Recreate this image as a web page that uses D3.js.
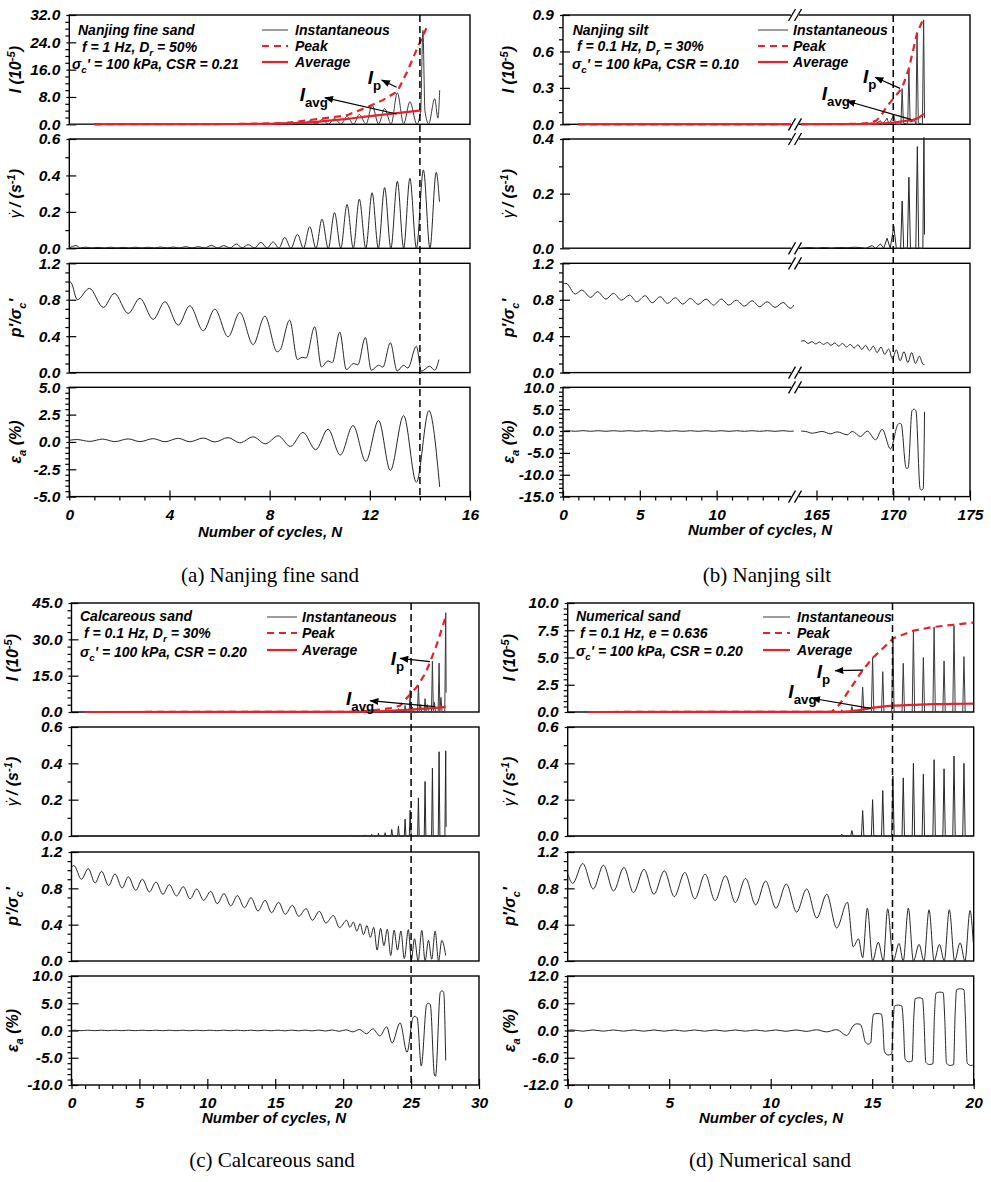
<!DOCTYPE html>
<html><head><meta charset="utf-8">
<script src="https://cdnjs.cloudflare.com/ajax/libs/d3/7.8.5/d3.min.js"></script>
<style>
body{margin:0;background:#fff;}
svg{display:block;}
</style></head><body>
<svg id="c" width="991" height="1182"></svg>
<script>
// ---------------- DATA ----------------
// x tick labels
const aXTicks = [0,4,8,12,16];
const bXTicksL = [0,5,10], bXTicksR = [165,170,175];
const cXTicks = [0,5,10,15,20,25,30];
const dXTicks = [0,5,10,15,20];
// y tick labels
const aITicks = [0,8,16,24,32], bITicks = [0,0.3,0.6,0.9], cITicks = [0,15,30,45], dITicks = [0,2.5,5,7.5,10];
const rateTicks06 = [0,0.2,0.4,0.6], rateTicks04 = [0,0.2,0.4];
const pTicks = [0,0.4,0.8,1.2];
const aEpsTicks = [-5,-2.5,0,2.5,5], bEpsTicks = [-15,-10,-5,0,5,10], cEpsTicks = [-10,-5,0,5,10], dEpsTicks = [-12,-6,0,6,12];
// critical cycle (vertical dashed line)
const critN = [14, 170, 25, 16];
// captions
const captions = ['(a) Nanjing fine sand','(b) Nanjing silt','(c) Calcareous sand','(d) Numerical sand'];

// ---- (a) Nanjing fine sand ----
const aInst = [[0,0],[6,0],[7.65,0.1],[8.1,0.05],[8.6,0.4],[8.85,0.05],[9.11,0.6],[9.35,0.05],[9.6,1.0],[9.85,0.05],[10.09,1.4],[10.35,0.05],[10.59,1.7],[10.85,0.05],[11.09,2.3],[11.35,0.05],[11.58,2.9],[11.85,0.05],[12.09,5.6],[12.35,0.05],[12.59,4.6],[12.85,0.05],[13.1,9.2],[13.35,0.05],[13.6,6.6],[13.88,0.05],[14.03,4],[14.12,27.5],[14.2,4],[14.35,0.1],[14.59,7.5],[14.72,1.8],[14.79,10.0]];
const aPeak = [[1,0],[7,0.1],[8.67,0.4],[10,1.6],[11.06,2.6],[11.86,4.9],[12.5,7.0],[13.1,9.6],[13.5,15.5],[13.86,21.7],[14.26,28.1]];
const aAvg = [[1,0],[6,0.02],[8,0.15],[9,0.35],[10,0.8],[11,1.5],[12,2.4],[13,3.2],[14.06,4.1]];
const aRate = [[0,0.002],[0.27,0.015],[0.45,0.002],[0.65,0.006],[0.9,0.002],[1.15,0.005],[1.4,0.002],[1.65,0.006],[1.9,0.002],[2.15,0.005],[2.4,0.002],[2.65,0.006],[2.9,0.002],[3.15,0.006],[3.4,0.002],[3.65,0.007],[3.9,0.002],[4.15,0.007],[4.4,0.002],[4.65,0.009],[4.9,0.002],[5.15,0.009],[5.4,0.002],[5.68,0.016],[5.92,0.002],[6.17,0.015],[6.42,0.002],[6.68,0.024],[6.9,0.002],[7.14,0.02],[7.4,0.002],[7.65,0.033],[7.9,0.002],[8.14,0.035],[8.37,0.001],[8.6,0.06],[8.85,0],[9.11,0.077],[9.35,0],[9.6,0.119],[9.85,0],[10.09,0.16],[10.34,0],[10.59,0.196],[10.84,0],[11.09,0.24],[11.34,0],[11.58,0.27],[11.84,0],[12.09,0.305],[12.34,0],[12.59,0.333],[12.84,0],[13.1,0.368],[13.35,0],[13.6,0.384],[13.86,0],[14.14,0.43],[14.4,0],[14.65,0.417],[14.78,0.256]];
const aP = [[0,1.0],[0.08,0.985],[0.32,0.80],[0.8,0.925],[1.36,0.716],[1.8,0.87],[2.35,0.65],[2.82,0.815],[3.35,0.584],[3.82,0.778],[4.35,0.521],[4.81,0.734],[5.35,0.459],[5.81,0.697],[6.34,0.393],[6.81,0.66],[7.34,0.308],[7.81,0.62],[8.3,0.228],[8.42,0.25],[8.8,0.576],[9.11,0.143],[9.3,0.168],[9.45,0.16],[9.8,0.503],[10.07,0.062],[10.33,0.128],[10.5,0.11],[10.8,0.444],[11.06,0.033],[11.36,0.1],[11.52,0.085],[11.82,0.385],[12.06,0.026],[12.35,0.08],[12.52,0.06],[12.82,0.327],[13.09,0.018],[13.35,0.08],[13.52,0.05],[13.86,0.29],[14.06,0.015],[14.39,0.07],[14.59,0.026],[14.76,0.143]];
const aEps = [[0,0.15],[0.3,0.22],[0.82,0.05],[1.33,0.26],[1.82,0.03],[2.35,0.28],[2.82,0.03],[3.35,0.3],[3.82,0.02],[4.35,0.33],[4.81,0.02],[5.35,0.36],[5.81,0.0],[6.34,0.4],[6.81,-0.08],[7.34,0.47],[7.83,-0.17],[8.34,0.56],[8.83,-0.41],[9.33,0.87],[9.84,-0.71],[10.33,1.17],[10.82,-1.2],[11.33,1.5],[11.84,-1.78],[12.35,1.96],[12.82,-2.6],[13.35,2.42],[13.86,-3.69],[14.36,2.87],[14.79,-4.12]];

// ---- (b) Nanjing silt (broken axis: left 0-15, right 164-172) ----
const bInstL = [[1,0],[15.02,0]];
const bInstR = [[164.0,0],[168.0,0.003],[168.63,0.01],[168.8,0],[169.17,0.03],[169.3,0],[169.6,0.05],[169.72,0],[170.04,0.08],[170.15,0],[170.5,0],[170.58,0.294],[170.66,0.01],[170.94,0],[171.02,0.45],[171.1,0.02],[171.4,0.03],[171.48,0],[171.55,0.75],[171.63,0.01],[171.9,0],[171.98,0.86],[172.04,0.05]];
const bPeakL = [[1,0],[15.02,0]];
const bPeakR = [[164.0,0],[167.5,0.003],[168.5,0.012],[168.9,0.03],[169.25,0.08],[169.6,0.15],[170.0,0.21],[170.58,0.3],[171.02,0.46],[171.55,0.75],[172.0,0.88]];
const bAvgL = [[1,0],[15.02,0]];
const bAvgR = [[164.0,0],[168,0.002],[169,0.006],[170,0.014],[170.6,0.025],[171.2,0.035],[171.6,0.05],[172,0.085]];
const bRateL = [[0,0],[15.02,0]];
const bRateR = [[164.0,0.001],[164.5,0.003],[165,0.001],[165.5,0.003],[166,0.001],[166.5,0.003],[167,0.002],[167.5,0.004],[168,0.002],[168.2,0],[168.63,0.01],[168.85,0],[169.17,0.016],[169.38,0],[169.6,0.037],[169.8,0],[170.04,0.08],[170.2,0],[170.48,0],[170.58,0.173],[170.68,0],[170.92,0],[171.02,0.26],[171.12,0],[171.47,0],[171.57,0.372],[171.66,0],[171.93,0],[172.0,0.43],[172.04,0.05]];
const bPL = [[0,0.973],[0.2,0.98],[0.8,0.862],[1.22,0.906],[1.8,0.826],[2.24,0.888],[2.8,0.807],[3.28,0.87],[3.8,0.796],[4.33,0.851],[4.8,0.778],[5.35,0.844],[5.8,0.767],[6.33,0.833],[6.8,0.76],[7.31,0.822],[7.8,0.752],[8.29,0.815],[8.8,0.749],[9.31,0.807],[9.8,0.741],[10.3,0.807],[10.8,0.741],[11.28,0.796],[11.8,0.73],[12.31,0.789],[12.8,0.723],[13.29,0.778],[13.8,0.716],[14.33,0.77],[14.8,0.705],[15.02,0.74]];
const bPR = [[164.0,0.345],[164.2,0.35],[164.45,0.32],[164.7,0.34],[164.95,0.315],[165.2,0.335],[165.45,0.31],[165.7,0.33],[165.95,0.30],[166.2,0.325],[166.45,0.29],[166.7,0.32],[166.95,0.28],[167.2,0.31],[167.45,0.27],[167.7,0.305],[167.95,0.255],[168.2,0.30],[168.45,0.24],[168.7,0.29],[168.95,0.22],[169.2,0.28],[169.45,0.2],[169.7,0.26],[169.95,0.15],[170.2,0.25],[170.45,0.13],[170.7,0.23],[170.95,0.11],[171.2,0.22],[171.45,0.1],[171.7,0.18],[171.95,0.09],[172.04,0.09]];
const bEpsL = [[0,0],[0.3,0.08],[0.8,-0.06],[1.3,0.08],[1.8,-0.06],[2.3,0.07],[2.8,-0.06],[3.3,0.07],[3.8,-0.06],[4.3,0.07],[4.8,-0.06],[5.3,0.07],[5.8,-0.06],[6.3,0.07],[6.8,-0.06],[7.3,0.07],[7.8,-0.07],[8.3,0.07],[8.8,-0.07],[9.3,0.07],[9.8,-0.07],[10.3,0.07],[10.8,-0.07],[11.3,0.07],[11.8,-0.07],[12.3,0.07],[12.8,-0.07],[13.3,0.07],[13.8,-0.07],[14.3,0.07],[14.8,-0.07],[15.02,0.0]];
const bEpsR = [[164.0,0],[164.3,-0.1],[164.72,-0.5],[165.37,-0.1],[165.91,-0.64],[166.35,-0.2],[167.0,-0.87],[167.33,-0.1],[167.87,-1.25],[168.3,0.0],[168.85,-2.0],[169.28,0.4],[169.82,-4.1],[170.3,1.5],[170.4,1.75],[170.52,1.6],[170.82,-8.3],[170.9,-8.6],[170.98,-8.3],[171.22,4.6],[171.35,5.0],[171.48,4.6],[171.75,-13.2],[171.85,-13.5],[171.95,-13.2],[172.04,4.4]];

// ---- (c) Calcareous sand ----
const cInst = [[1,0],[23.5,0],[23.58,0.8],[23.66,0],[24.0,0],[24.07,1.4],[24.14,0],[24.49,0],[24.56,2.7],[24.63,0],[24.86,0],[24.93,8.9],[25.0,0.5],[25.1,2.0],[25.18,0],[25.47,0],[25.54,11.0],[25.61,0.5],[25.7,3.0],[25.78,0],[25.96,0],[26.03,5.5],[26.1,0.5],[26.2,3.0],[26.28,0],[26.5,0],[26.57,21.0],[26.64,0.5],[26.72,4.0],[26.8,0],[26.99,0],[27.06,20.2],[27.12,0.5],[27.2,6.0],[27.28,0],[27.48,0],[27.55,41.0],[27.58,8]];
const cPeak = [[1,0],[21,0.05],[22.23,0.7],[23.5,1.6],[24.2,2.7],[24.8,6.5],[25.42,10.3],[26.0,15.5],[26.4,20.6],[26.9,28.0],[27.5,38.5]];
const cAvg = [[1,0],[20,0.05],[22,0.2],[23,0.4],[24,0.7],[25,1.0],[26,1.4],[27,1.8],[27.55,2.1]];
const cRate = [[0,0],[20.55,0],[20.6,0.004],[20.65,0],[21.55,0],[21.6,0.006],[21.65,0],[22.05,0],[22.1,0.009],[22.15,0],[22.55,0],[22.6,0.015],[22.65,0],[23.04,0],[23.09,0.018],[23.14,0],[23.52,0],[23.58,0.036],[23.64,0],[24.01,0],[24.07,0.055],[24.13,0],[24.5,0],[24.56,0.093],[24.62,0],[24.87,0],[24.93,0.142],[24.99,0.02],[25.05,0],[25.48,0],[25.54,0.21],[25.6,0],[25.97,0],[26.03,0.3],[26.09,0],[26.51,0],[26.57,0.373],[26.63,0],[27.0,0],[27.06,0.464],[27.12,0],[27.49,0],[27.55,0.469],[27.58,0.05]];
const cP = [[0,1.03],[0.18,1.05],[0.73,0.9],[1.24,1.017],[1.73,0.859],[2.22,0.987],[2.73,0.83],[3.2,0.958],[3.73,0.804],[4.18,0.928],[4.73,0.778],[5.22,0.9],[5.73,0.76],[6.22,0.87],[6.73,0.734],[7.2,0.84],[7.73,0.716],[8.23,0.818],[8.73,0.683],[9.22,0.793],[9.73,0.668],[10.25,0.767],[10.73,0.631],[11.23,0.741],[11.73,0.606],[12.21,0.72],[12.73,0.587],[13.22,0.697],[13.73,0.55],[14.25,0.668],[14.73,0.532],[15.25,0.646],[15.73,0.514],[16.26,0.613],[16.73,0.492],[17.27,0.576],[17.73,0.448],[18.25,0.547],[18.73,0.418],[19.28,0.5],[19.73,0.367],[20.26,0.448],[20.5,0.37],[20.75,0.43],[21.0,0.33],[21.25,0.41],[21.5,0.29],[21.75,0.39],[22.0,0.26],[22.25,0.37],[22.5,0.12],[22.75,0.36],[23.0,0.17],[23.25,0.35],[23.5,0.06],[23.75,0.34],[24.0,0.12],[24.25,0.33],[24.5,0.026],[24.8,0.345],[25.02,0.01],[25.25,0.245],[25.52,0.0],[25.79,0.337],[26.03,0.0],[26.28,0.227],[26.52,0.02],[26.77,0.33],[27.02,0.0],[27.26,0.227],[27.55,0.06]];
const cEps = [[0,0],[0.2,0.05],[0.7,-0.03],[1.2,0.05],[1.7,-0.03],[2.2,0.05],[2.7,-0.03],[3.2,0.05],[3.7,-0.03],[4.2,0.05],[4.7,-0.03],[5.2,0.05],[5.7,-0.03],[6.2,0.05],[6.7,-0.03],[7.2,0.05],[7.7,-0.04],[8.2,0.05],[8.7,-0.04],[9.2,0.05],[9.7,-0.04],[10.2,0.06],[10.7,-0.04],[11.2,0.06],[11.7,-0.04],[12.2,0.06],[12.7,-0.05],[13.2,0.06],[13.7,-0.05],[14.2,0.06],[14.7,-0.05],[15.2,0.06],[15.7,-0.06],[16.2,0.07],[16.7,-0.06],[17.2,0.07],[17.7,-0.07],[18.2,0.08],[18.7,-0.1],[19.2,0.1],[19.7,-0.15],[20.2,0.12],[20.72,-0.25],[21.2,0.18],[21.72,-0.6],[22.18,0.3],[22.7,-1.0],[23.2,0.67],[23.6,-2.3],[24.19,1.4],[24.7,-4.0],[25.15,2.4],[25.3,2.6],[25.45,2.3],[25.75,-6.5],[26.15,4.8],[26.28,5.0],[26.42,4.7],[26.72,-8.2],[26.8,-8.4],[27.15,7.0],[27.28,7.3],[27.4,7.0],[27.55,-5.5]];

// ---- (d) Numerical sand ----
const dInst = [[1,0],[13.44,0],[13.5,0.2],[13.56,0],[13.94,0],[14.0,0.5],[14.06,0],[14.47,0],[14.53,2.28],[14.59,0],[14.96,0],[15.02,5.0],[15.08,0],[15.46,0],[15.52,3.7],[15.58,0],[15.96,0],[16.02,6.6],[16.08,0],[16.47,0],[16.53,4.47],[16.59,0],[16.97,0],[17.03,7.36],[17.09,0],[17.46,0],[17.52,5.0],[17.58,0],[17.99,0],[18.05,7.8],[18.11,0],[18.48,0],[18.54,4.68],[18.6,0],[18.97,0],[19.03,7.9],[19.09,0],[19.46,0],[19.52,5.08],[19.58,0],[20,0]];
const dPeak = [[1,0],[13.0,0.02],[13.4,0.7],[14.55,3.9],[15.05,5.0],[16.04,6.75],[17.0,7.45],[18.0,7.8],[19.0,8.0],[20.0,8.2]];
const dAvg = [[1,0],[13.5,0.02],[14.3,0.15],[14.9,0.36],[15.5,0.5],[16.04,0.58],[17,0.65],[18,0.72],[19,0.75],[20,0.76]];
const dRate = [[0,0],[13.44,0],[13.5,0.01],[13.56,0],[13.94,0],[14.0,0.03],[14.06,0],[14.47,0],[14.53,0.14],[14.59,0],[14.96,0],[15.02,0.2],[15.08,0],[15.46,0],[15.52,0.25],[15.58,0],[15.96,0],[16.02,0.33],[16.08,0],[16.47,0],[16.53,0.32],[16.59,0],[16.97,0],[17.03,0.4],[17.09,0],[17.46,0],[17.52,0.34],[17.58,0],[17.99,0],[18.05,0.42],[18.11,0],[18.48,0],[18.54,0.37],[18.6,0],[18.97,0],[19.03,0.44],[19.09,0],[19.46,0],[19.52,0.4],[19.58,0],[20,0]];
const dP = [[0,0.96],[0.25,0.855],[0.74,1.073],[1.26,0.793],[1.76,1.055],[2.26,0.771],[2.77,1.03],[3.24,0.753],[3.76,1.01],[4.25,0.735],[4.76,0.993],[5.25,0.709],[5.77,0.975],[6.26,0.684],[6.77,0.956],[7.26,0.665],[7.77,0.938],[8.26,0.644],[8.76,0.909],[9.26,0.618],[9.75,0.88],[10.26,0.582],[10.77,0.847],[11.28,0.538],[11.77,0.793],[12.27,0.473],[12.76,0.735],[13.25,0.364],[13.78,0.647],[14.07,0.156],[14.32,0.244],[14.53,0.036],[14.76,0.582],[15.02,0.0],[15.3,0.207],[15.55,0.0],[15.76,0.575],[16.04,0.0],[16.32,0.193],[16.53,0.0],[16.78,0.582],[17.03,0.0],[17.31,0.182],[17.55,0.0],[17.8,0.564],[18.05,0.0],[18.31,0.182],[18.55,0.0],[18.8,0.564],[19.06,0.0],[19.33,0.2],[19.57,0.0],[19.82,0.556],[19.98,0.2]];
const dEps = [[0,0.05],[0.25,0.12],[0.75,-0.15],[1.25,0.12],[1.75,-0.15],[2.25,0.12],[2.75,-0.15],[3.25,0.12],[3.75,-0.15],[4.25,0.12],[4.75,-0.15],[5.25,0.12],[5.75,-0.15],[6.25,0.12],[6.75,-0.15],[7.25,0.12],[7.75,-0.15],[8.25,0.12],[8.75,-0.15],[9.25,0.12],[9.75,-0.15],[10.25,0.12],[10.75,-0.18],[11.25,0.13],[11.75,-0.2],[12.25,0.15],[12.75,-0.3],[13.25,0.2],[13.74,-1.1],[14.1,1.2],[14.24,1.47],[14.4,1.4],[14.52,0.2],[14.65,-2.4],[14.8,-3.0],[14.93,-2.7],[15.0,1.5],[15.07,3.6],[15.28,3.75],[15.45,3.6],[15.52,1.5],[15.6,-4.6],[15.78,-5.4],[15.96,-5.2],[16.03,1.5],[16.1,5.4],[16.3,5.6],[16.46,5.4],[16.53,2.0],[16.62,-6.3],[16.8,-6.9],[16.97,-6.7],[17.04,2.0],[17.12,7.0],[17.3,7.2],[17.48,7.0],[17.55,2.5],[17.64,-7.0],[17.82,-7.5],[17.99,-7.3],[18.06,2.5],[18.14,8.2],[18.32,8.45],[18.5,8.3],[18.57,3.0],[18.66,-7.2],[18.84,-7.7],[19.01,-7.5],[19.08,3.0],[19.16,9.0],[19.34,9.2],[19.52,9.0],[19.59,3.0],[19.68,-7.2],[19.86,-7.7],[20.0,-7.6]];

// ---------------- LAYOUT ----------------
const RED = '#e3222a', INK = '#262626';
const FONT = '"Liberation Sans", Arial, sans-serif';
const SERIF = '"Liberation Serif", "Times New Roman", serif';
const svg = d3.select('#c');
const defs = svg.append('defs');
defs.append('marker').attr('id','arr').attr('viewBox','0 0 10 8').attr('refX',9.5).attr('refY',4)
  .attr('markerWidth',9).attr('markerHeight',7).attr('orient','auto').attr('markerUnits','userSpaceOnUse')
  .append('path').attr('d','M0,0L10,4L0,8Z').attr('fill','#000');

const topsAB = [15,139,263.3,387.3], topsCD = [603,727,852,976];
const panels = [
 {id:'a', L:69.3, R:470, tops:topsAB, H:109.3, xd:[0,16], xt:aXTicks, crit:critN[0], ylx:21,
  rows:[{d:[0,32],t:aITicks,m:2},{d:[0,0.6],t:rateTicks06,m:0.1},{d:[0,1.2],t:pTicks,m:0.1},{d:[-5,5],t:aEpsTicks,m:0.5}],
  series:[[{d:aInst,c:'mono',s:'inst'},{d:aPeak,c:'lin',s:'peak'},{d:aAvg,c:'mono',s:'avg'}],[{d:aRate,c:'mono',s:'k'}],[{d:aP,c:'mono',s:'k'}],[{d:aEps,c:'mono',s:'k'}]],
  text:[[78,35,[['Nanjing fine sand','']]],[82,51.5,[['f = 1 Hz, D',''],['r','sub'],[' = 50%','']]],[72,69,[['σ',''],['c','sub'],['\' = 100 kPa, CSR = 0.21','']]]],
  leg:{x1:262,x2:288,tx:295,ys:[30,46,62]},
  ann:{ip:[11.92,11.8],ipT:[13.07,10.83],ipH:[12.47,12.97],av:[9.2,6.82],avT:[13.07,3.02],avH:[10.2,7.79]},
  title:[270,537], cap:[270,582]},
 {id:'b', L:563, R:970, brk:795, dL:[0,15.1], dR:[163.6,175], tops:topsAB, H:109.3, xtL:bXTicksL, xtR:bXTicksR, crit:critN[1], ylx:514,
  rows:[{d:[0,0.9],t:bITicks,m:0.1},{d:[0,0.4],t:rateTicks04,m:0.1},{d:[0,1.2],t:pTicks,m:0.1},{d:[-15,10],t:bEpsTicks,m:1}],
  series:[[{d:bInstL,c:'lin',s:'inst',g:0},{d:bInstR,c:'lin',s:'inst',g:1},{d:bPeakL,c:'lin',s:'peak',g:0},{d:bPeakR,c:'lin',s:'peak',g:1},{d:bAvgL,c:'lin',s:'avg',g:0},{d:bAvgR,c:'mono',s:'avg',g:1}],
          [{d:bRateL,c:'lin',s:'k',g:0},{d:bRateR,c:'lin',s:'k',g:1}],[{d:bPL,c:'mono',s:'k',g:0},{d:bPR,c:'mono',s:'k',g:1}],[{d:bEpsL,c:'mono',s:'k',g:0},{d:bEpsR,c:'mono',s:'k',g:1}]],
  text:[[572.7,35,[['Nanjing silt','']]],[577,51,[['f = 0.1 Hz, D',''],['r','sub'],[' = 30%','']]],[572,69,[['σ',''],['c','sub'],['\' = 100 kPa, CSR = 0.10','']]]],
  leg:{x1:758,x2:788,tx:793,ys:[30,46,62]},
  ann:{ip:[168.03,0.34],ipT:[170.44,0.296],ipH:[168.81,0.387],av:[165.34,0.2],avT:[171.14,0.041],avH:[166.97,0.192]},
  title:[760,535], cap:[767,582]},
 {id:'c', L:71.5, R:479, tops:topsCD, H:109, xd:[0,30], xt:cXTicks, crit:critN[2], ylx:18,
  rows:[{d:[0,45],t:cITicks,m:3},{d:[0,0.6],t:rateTicks06,m:0.1},{d:[0,1.2],t:pTicks,m:0.1},{d:[-10,10],t:cEpsTicks,m:1}],
  series:[[{d:cInst,c:'lin',s:'inst'},{d:cPeak,c:'lin',s:'peak'},{d:cAvg,c:'mono',s:'avg'}],[{d:cRate,c:'lin',s:'k'}],[{d:cP,c:'mono',s:'k'}],[{d:cEps,c:'mono',s:'k'}]],
  text:[[80,621,[['Calcareous sand','']]],[84,638,[['f = 0.1 Hz, D',''],['r','sub'],[' = 30%','']]],[80,657,[['σ',''],['c','sub'],['\' = 100 kPa, CSR = 0.20','']]]],
  leg:{x1:267,x2:297,tx:302,ys:[617,633,650]},
  ann:{ip:[23.5,19.4],ipT:[26.39,20.77],ipH:[24.18,22.17],av:[20.21,2.89],avT:[26.76,2.19],avH:[21.98,4.67]},
  title:[274,1123], cap:[272,1167]},
 {id:'d', L:567.7, R:973.7, tops:topsCD, H:109, xd:[0,20], xt:dXTicks, crit:critN[3], ylx:515,
  rows:[{d:[0,10],t:dITicks,m:0.5},{d:[0,0.6],t:rateTicks06,m:0.1},{d:[0,1.2],t:pTicks,m:0.1},{d:[-12,12],t:dEpsTicks,m:1.2}],
  series:[[{d:dInst,c:'lin',s:'inst'},{d:dPeak,c:'lin',s:'peak'},{d:dAvg,c:'mono',s:'avg'}],[{d:dRate,c:'lin',s:'k'}],[{d:dP,c:'mono',s:'k'}],[{d:dEps,c:'mono',s:'k'}]],
  text:[[576,621,[['Numerical sand','']]],[580,638,[['f = 0.1 Hz, e = 0.636','']]],[576,656,[['σ',''],['c','sub'],['\' = 100 kPa, CSR = 0.20','']]]],
  leg:{x1:763,x2:790,tx:797,ys:[617,633,650]},
  ann:{ip:[12.27,3.12],ipT:[14.56,3.85],ipH:[13.17,3.79],av:[10.87,1.28],avT:[14.93,0.34],avH:[12.02,1.26]},
  title:[771,1123], cap:[770,1167]}
];

// ---------------- HELPERS ----------------
function rich(g, x, y, parts, size, opts) {
  opts = opts || {};
  const t = g.append('text').attr('x',x).attr('y',y).attr('font-size',size)
    .attr('font-weight','bold').attr('font-style', opts.upright ? 'normal' : 'italic')
    .attr('text-anchor', opts.anchor || 'start').attr('fill','#000').attr('font-family',FONT);
  if (opts.transform) t.attr('transform', opts.transform);
  let shift = 0;
  parts.forEach(([s,m]) => {
    const ts = t.append('tspan').text(s);
    const target = (m==='sub'||m==='subn') ? size*0.3 : (m==='sup' ? -size*0.4 : 0);
    if (target !== shift) ts.attr('dy', target - shift);
    shift = target;
    if (m==='sub'||m==='sup'||m==='subn') ts.attr('font-size', size*0.7);
    if (m==='subn') ts.attr('font-style','normal');
    if (m==='thin') ts.attr('font-weight','normal');
    if (m==='dot') ts.attr('font-weight','normal').attr('dx', -size*0.42);
  });
  return t;
}
const fmt1 = v => (Math.abs(v)<1e-9 ? 0 : v).toFixed(1);
function styleAxis(a) {
  a.select('.domain').remove();
  a.selectAll('line').attr('stroke','#000').attr('stroke-width',1.2);
  a.attr('font-family',FONT).attr('font-size',15.5).attr('font-weight','bold').attr('font-style','italic');
  a.selectAll('text').attr('fill','#000');
}
function minorVals(dom, step, majors) {
  return d3.range(dom[0], dom[1] + step*0.01, step).filter(v => !majors.some(t => Math.abs(t-v) < step*0.01));
}
function yAxes(g, y, L, row) {
  g.append('g').attr('transform',`translate(${L},0)`)
    .call(d3.axisLeft(y).tickValues(minorVals(row.d,row.m,row.t)).tickSize(4).tickFormat('')).call(styleAxis);
  g.append('g').attr('transform',`translate(${L},0)`)
    .call(d3.axisLeft(y).tickValues(row.t).tickSize(3).tickFormat('')).call(styleAxis);
  g.append('g').attr('transform',`translate(${L},0)`)
    .call(d3.axisLeft(y).tickValues(row.t).tickSize(-7).tickPadding(9).tickFormat(fmt1)).call(styleAxis);
}
function xAxes(g, x, yb, majors, minors) {
  g.append('g').attr('transform',`translate(0,${yb})`)
    .call(d3.axisBottom(x).tickValues(minors).tickSize(4).tickFormat('')).call(styleAxis);
  g.append('g').attr('transform',`translate(0,${yb})`)
    .call(d3.axisBottom(x).tickValues(majors).tickSize(4).tickFormat('')).call(styleAxis);
  g.append('g').attr('transform',`translate(0,${yb})`)
    .call(d3.axisBottom(x).tickValues(majors).tickSize(-6).tickPadding(12).tickFormat(d3.format('d'))).call(styleAxis);
}
function yLabel(g, kind, cx, cy) {
  const tr = `translate(${cx},${cy}) rotate(-90)`;
  const o = {anchor:'middle', transform:tr};
  if (kind===0) rich(g,0,0,[['I',''],[' (10',''],['-5','sup'],[')','']],16,o);
  if (kind===1) rich(g,0,0,[['γ','thin'],['\u02D9','dot'],[' / (s',''],['-1','sup'],[')','']],16,o);
  if (kind===2) rich(g,0,0,[['p\'/σ',''],['c','sub'],['\'','']],16,o);
  if (kind===3) rich(g,0,0,[['ε',''],['a','sub'],[' (%)','']],16,o);
}

// ---------------- DRAW ----------------
panels.forEach((p, pi) => {
  const g = svg.append('g');
  let xs, X;
  if (p.brk) {
    const s1 = d3.scaleLinear().domain(p.dL).range([p.L, p.brk]);
    const s2 = d3.scaleLinear().domain(p.dR).range([p.brk, p.R]);
    xs = [s1, s2];
    X = v => v <= p.dL[1] + 1 ? s1(v) : s2(v);
  } else {
    const s = d3.scaleLinear().domain(p.xd).range([p.L, p.R]);
    xs = [s, s];
    X = s;
  }
  const ys = [];
  p.rows.forEach((row, ri) => {
    const top = p.tops[ri], bot = top + p.H;
    const y = d3.scaleLinear().domain(row.d).range([bot, top]);
    ys.push(y);
    const cid = `clip_${p.id}_${ri}`;
    defs.append('clipPath').attr('id',cid).append('rect')
      .attr('x',p.L).attr('y',top-1.5).attr('width',p.R-p.L).attr('height',p.H+3);
    g.append('rect').attr('x',p.L).attr('y',top).attr('width',p.R-p.L).attr('height',p.H)
      .attr('fill','none').attr('stroke','#000').attr('stroke-width',1.4);
    yAxes(g, y, p.L, row);
    yLabel(g, ri, p.ylx, top + p.H/2);
    const lg = g.append('g').attr('clip-path',`url(#${cid})`);
    p.series[ri].forEach(se => {
      const xsc = xs[se.g || 0];
      const line = d3.line().x(d => xsc(d[0])).y(d => y(d[1]))
        .curve(se.c === 'mono' ? d3.curveMonotoneX : d3.curveLinear);
      const path = lg.append('path').attr('d', line(se.d)).attr('fill','none');
      if (se.s === 'inst') path.attr('stroke','#3a3a3a').attr('stroke-width',1);
      else if (se.s === 'peak') path.attr('stroke',RED).attr('stroke-width',2.2).attr('stroke-dasharray','7,5');
      else if (se.s === 'avg') path.attr('stroke',RED).attr('stroke-width',2.2);
      else path.attr('stroke',INK).attr('stroke-width',1);
    });
  });
  // x axis at bottom
  const yb = p.tops[3] + p.H;
  if (p.brk) {
    xAxes(g, xs[0], yb, p.xtL, minorVals([0,14],1,p.xtL));
    xAxes(g, xs[1], yb, p.xtR, minorVals([165,175],1,p.xtR));
    // break marks
    p.tops.forEach(t => {
      [t, t + p.H].forEach(yy => {
        g.append('rect').attr('x',p.brk-4).attr('y',yy-2).attr('width',8).attr('height',4).attr('fill','#fff');
        [-3, 3].forEach(off => {
          g.append('line').attr('x1',p.brk+off-3.5).attr('y1',yy+6).attr('x2',p.brk+off+3.5).attr('y2',yy-6)
            .attr('stroke','#000').attr('stroke-width',1.3);
        });
      });
    });
  } else {
    xAxes(g, xs[0], yb, p.xt, minorVals(p.xd,1,p.xt));
  }
  // critical dashed line
  g.append('line').attr('x1',X(p.crit)).attr('x2',X(p.crit)).attr('y1',p.tops[0]).attr('y2',yb)
    .attr('stroke','#000').attr('stroke-width',1.5).attr('stroke-dasharray','7,4');
  // annotation text
  p.text.forEach(([x,y,parts]) => rich(g, x, y, parts, 14));
  // legend
  const lgd = p.leg;
  const names = ['Instantaneous','Peak','Average'];
  names.forEach((n,i) => {
    const yy = lgd.ys[i];
    const ln = g.append('line').attr('x1',lgd.x1).attr('x2',lgd.x2).attr('y1',yy).attr('y2',yy);
    if (i===0) ln.attr('stroke','#3a3a3a').attr('stroke-width',1);
    if (i===1) ln.attr('stroke',RED).attr('stroke-width',2.2).attr('stroke-dasharray','7,5');
    if (i===2) ln.attr('stroke',RED).attr('stroke-width',2.2);
    rich(g, lgd.tx, yy+5, [[n,'']], 14);
  });
  // Ip / Iavg labels & arrows
  const yI = ys[0];
  const a = p.ann;
  const xy = q => [X(q[0]), yI(q[1])];
  rich(g, ...xy(a.ip), [['I',''],['p','subn']], 19);
  rich(g, ...xy(a.av), [['I',''],['avg','subn']], 19);
  [[a.ipT,a.ipH],[a.avT,a.avH]].forEach(([t,h]) => {
    const T = xy(t), Hh = xy(h);
    g.append('line').attr('x1',T[0]).attr('y1',T[1]).attr('x2',Hh[0]).attr('y2',Hh[1])
      .attr('stroke','#000').attr('stroke-width',1.2).attr('marker-end','url(#arr)');
  });
  // axis title and caption
  rich(g, p.title[0], p.title[1], [['Number of cycles, N','']], 15, {anchor:'middle'});
  g.append('text').attr('x',p.cap[0]).attr('y',p.cap[1]).attr('text-anchor','middle')
    .attr('font-family',SERIF).attr('font-size',21).attr('fill','#000')
    .text(captions[pi]);
});
</script></body></html>
